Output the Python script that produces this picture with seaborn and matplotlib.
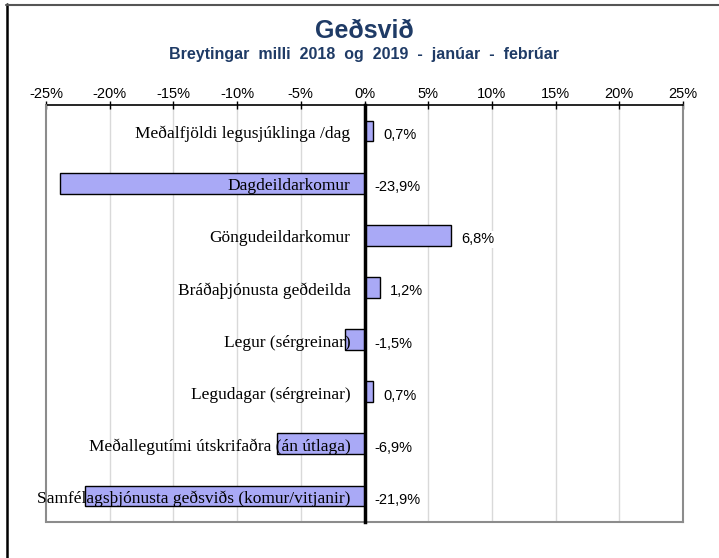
import matplotlib
matplotlib.use("Agg")
import matplotlib.pyplot as plt
from matplotlib.lines import Line2D
import seaborn as sns
import pandas as pd

# Year-on-year change, January-February 2019 vs 2018 (percent)
categories = [
    "Meðalfjöldi legusjúklinga /dag",
    "Dagdeildarkomur",
    "Göngudeildarkomur",
    "Bráðaþjónusta geðdeilda",
    "Legur (sérgreinar)",
    "Legudagar (sérgreinar)",
    "Meðallegutími útskrifaðra (án útlaga)",
    "Samfélagsþjónusta geðsviðs (komur/vitjanir)",
]
changes = [0.7, -23.9, 6.8, 1.2, -1.5, 0.7, -6.9, -21.9]
value_labels = ["0,7%", "-23,9%", "6,8%", "1,2%", "-1,5%", "0,7%", "-6,9%", "-21,9%"]
tick_values = [-25, -20, -15, -10, -5, 0, 5, 10, 15, 20, 25]
tick_labels = ["-25%", "-20%", "-15%", "-10%", "-5%", "0%", "5%", "10%", "15%", "20%", "25%"]

title = "Geðsvið"
subtitle = "Breytingar  milli  2018  og  2019  -  janúar  -  febrúar"

df = pd.DataFrame({"flokkur": categories, "breyting": changes})

sns.set_style("white")
plt.rcParams["font.family"] = ["Liberation Sans", "DejaVu Sans"]

W, H = 719, 558
fig = plt.figure(figsize=(W / 100, H / 100), dpi=100)
ax = fig.add_axes([46 / W, 1 - 522 / H, (683 - 46) / W, (522 - 105) / H])

bar_color = "#A9A9F6"
navy = "#1F3B66"

sns.barplot(data=df, x="breyting", y="flokkur", orient="h", ax=ax,
            color=bar_color, saturation=1, width=0.4,
            edgecolor="black", linewidth=1.0, zorder=3)

ax.set_xlim(-25, 25)
ax.set_ylim(len(categories) - 0.5, -0.5)
ax.set_xlabel("")
ax.set_ylabel("")

# Percent axis on top
ax.xaxis.tick_top()
ax.set_xticks(tick_values)
ax.set_xticklabels(tick_labels, fontsize=10.5, color="black")
ax.tick_params(axis="x", direction="inout", length=6, width=1, color="black", pad=0)

# Vertical gridlines
for v in tick_values[1:-1]:
    ax.axvline(v, color="#D9D9D9", lw=1, zorder=0)

# Category axis sits on the zero line
ax.spines["left"].set_position(("data", 0))
ax.spines["left"].set_linewidth(2.5)
ax.spines["left"].set_color("black")
ax.spines["left"].set_zorder(5)
ax.set_yticks([i - 0.5 for i in range(len(categories) + 1)])
ax.set_yticklabels([])
ax.tick_params(axis="y", direction="out", length=5, width=2, color="black")

ax.spines["top"].set_color("black")
ax.spines["top"].set_linewidth(1.2)
for s in ("right", "bottom"):
    ax.spines[s].set_color("#8C8C8C")
    ax.spines[s].set_linewidth(1.5)
ax.axvline(-25, color="#8C8C8C", lw=1.5, zorder=4, clip_on=False)

# Category names next to the zero line
for i, name in enumerate(categories):
    ax.annotate(name, xy=(0, i), xytext=(-14, -3), textcoords="offset pixels",
                ha="right", va="center", fontsize=12.5,
                family=["Liberation Serif", "DejaVu Serif"], color="black", zorder=6)

# Value labels
for i, (v, lab) in enumerate(zip(changes, value_labels)):
    x0 = v if v > 0 else 0
    ax.annotate(lab, xy=(x0, i), xytext=(10, -4), textcoords="offset pixels",
                ha="left", va="center", fontsize=10.5, color="black", zorder=6,
                bbox=dict(facecolor="white", edgecolor="none", pad=1.0))

# Titles
cx = (46 + 683) / 2 / W
fig.text(cx, 1 - 31 / H, title, ha="center", va="center", fontsize=18,
         fontweight="bold", color=navy)
fig.text(cx, 1 - 55 / H, subtitle, ha="center", va="center", fontsize=11.5,
         fontweight="bold", color=navy)

# Chart frame
fig.add_artist(Line2D([6.5 / W, 6.5 / W], [1 - 4 / H, 0], color="black", lw=1.8,
                      transform=fig.transFigure))
fig.add_artist(Line2D([6 / W, 1], [1 - 4.5 / H, 1 - 4.5 / H], color="#555555", lw=1.5,
                      transform=fig.transFigure))

fig.savefig("out.png", dpi=100)
